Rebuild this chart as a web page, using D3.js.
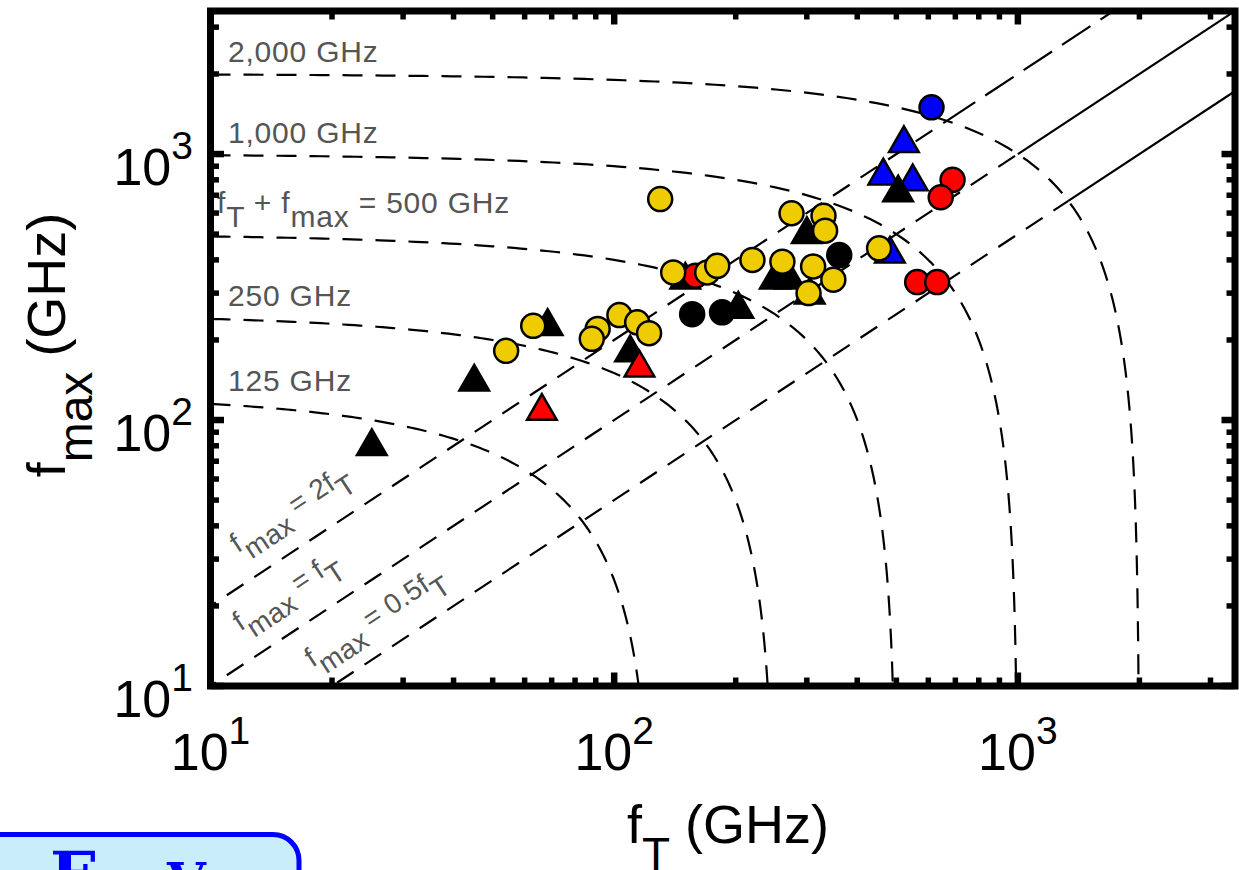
<!DOCTYPE html>
<html>
<head>
<meta charset="utf-8">
<script src="https://d3js.org/d3.v7.min.js"></script>
<style>
  body { margin: 0; background: #fff; }
  svg { display: block; font-family: "Liberation Sans", Arial, Helvetica, sans-serif; }
</style>
</head>
<body>
<div id="chart"></div>
<script>
// [fT, fmax] in GHz
var yellowCircles = [
  [130, 677], [54, 182], [63, 226], [91, 220], [88, 202], [103, 248], [114, 233],
  [122, 212], [140, 359], [170, 359], [180, 380], [220, 400], [261, 394], [275, 599],
  [330, 586], [333, 515], [311, 378], [349, 337], [303, 300], [453, 442]
];
var redCircles = [[159, 349], [689, 800], [644, 688], [563, 330], [631, 330]];
var blueCircles = [[611, 1498]];
var blackCircles = [[156, 250], [185, 254], [361, 417]];
var blackTriangles = [
  [25.1, 79.6], [45, 139], [68.4, 225], [109.5, 179], [203, 261], [300, 499],
  [250, 336], [272, 336], [505, 715], [150, 336], [305, 295]
];
var blueTriangles = [[522, 1097], [464, 828], [549, 787], [482, 421]];
var redTriangles = [[66.2, 108], [115.5, 157]];

// guide lines: fT + fmax = const, and fmax = k * fT
var sumLevels = [125, 250, 500, 1000, 2000];
var sumLabels = ["125 GHz", "250 GHz", null, "1,000 GHz", "2,000 GHz"];
var ratios = [2, 1, 0.5];
var ratioLabels = ["2f", "f", "0.5f"];

var W = 1239, H = 870;
var svg = d3.select("#chart").append("svg").attr("width", W).attr("height", H);

var x = d3.scaleLog().domain([10, 3450]).range([210.5, 1235]);
var y = d3.scaleLog().domain([10, 3450]).range([686, 11]);

var defs = svg.append("defs");
defs.append("clipPath").attr("id", "plot")
  .append("rect")
  .attr("x", x.range()[0]).attr("y", y.range()[1])
  .attr("width", x.range()[1] - x.range()[0])
  .attr("height", y.range()[0] - y.range()[1]);

var line = d3.line()
  .x(function (d) { return x(d[0]); })
  .y(function (d) { return y(d[1]); });

var guides = svg.append("g").attr("clip-path", "url(#plot)")
  .attr("fill", "none").attr("stroke", "#000").attr("stroke-width", 2.2);

// constant-sum curves
sumLevels.forEach(function (c) {
  var pts = [], n = 80, top = Math.log10(c / 2);
  for (var i = 0; i <= n; i++) {
    var v = Math.pow(10, 1 + (i / n) * (top - 1));
    pts.push([v, c - v]);
  }
  for (var j = n; j >= 0; j--) {
    var w = Math.pow(10, 1 + (j / n) * (top - 1));
    pts.push([c - w, w]);
  }
  guides.append("path").attr("d", line(pts)).attr("stroke-dasharray", "20,13");
});

// ratio lines, dashed inside the 2,000 GHz curve
ratios.forEach(function (k) {
  var cross = 2000 / (1 + k);
  guides.append("path")
    .attr("d", line([[5, 5 * k], [cross, cross * k]]))
    .attr("stroke-dasharray", "20,13");
  guides.append("path")
    .attr("d", line([[cross, cross * k], [5000, 5000 * k]]))
    .attr("stroke-dasharray", k === 2 ? "34,12" : null);
});

// labels
var gray = "#555";
var labels = svg.append("g").attr("fill", gray).style("font-size", "30px")
  .style("letter-spacing", "0.8px");

sumLevels.forEach(function (c, i) {
  if (!sumLabels[i]) return;
  labels.append("text").attr("x", 228).attr("y", y(c - 10) - 12.5).text(sumLabels[i]);
});
var t500 = labels.append("text").attr("x", 217).attr("y", y(490) - 23);
t500.append("tspan").text("f");
t500.append("tspan").attr("dy", 14).text("T");
t500.append("tspan").attr("dy", -14).text(" + f");
t500.append("tspan").attr("dy", 14).text("max");
t500.append("tspan").attr("dy", -14).text(" = 500 GHz");

var angle = Math.atan((y(10) - y(100)) / (x(100) - x(10))) * 180 / Math.PI;
var ratioAnchor = [12.8, 13, 19.4];
var ratioOffset = [29, 29, 26];
ratios.forEach(function (k, i) {
  var g = labels.append("g")
    .attr("transform", "translate(" + x(ratioAnchor[i]) + "," + y(ratioAnchor[i] * k) +
      ") rotate(" + (-angle) + ")");
  var t = g.append("text").attr("x", 0).attr("y", -ratioOffset[i])
    .style("font-size", "28px").style("letter-spacing", "0.3px");
  t.append("tspan").text("f");
  t.append("tspan").attr("dy", 13).text("max");
  t.append("tspan").attr("dy", -13).text(" = " + ratioLabels[i]);
  t.append("tspan").attr("dy", 13).text("T");
});

// markers
var marks = svg.append("g").attr("clip-path", "url(#plot)");
var tri = d3.symbol().type(d3.symbolTriangle).size(380);

function triangles(data, color) {
  marks.selectAll(null).data(data).enter().append("path")
    .attr("d", tri)
    .attr("transform", function (d) { return "translate(" + x(d[0]) + "," + y(d[1]) + ")"; })
    .attr("fill", color).attr("stroke", "#000").attr("stroke-width", 2.5)
    .attr("stroke-linejoin", "miter");
}
function circles(data, color) {
  marks.selectAll(null).data(data).enter().append("circle")
    .attr("cx", function (d) { return x(d[0]); })
    .attr("cy", function (d) { return y(d[1]); })
    .attr("r", 12)
    .attr("fill", color).attr("stroke", "#000").attr("stroke-width", 2.5);
}
triangles(blueTriangles, "#0000ff");
triangles(blackTriangles, "#000");
triangles(redTriangles, "#ff0000");
circles(blackCircles, "#000");
circles(redCircles, "#ff0000");
circles(yellowCircles, "#eecc00");
circles(blueCircles, "#0000ff");

// frame and ticks
var x0 = x.range()[0], x1 = x.range()[1], y0 = y.range()[0], y1 = y.range()[1];
var ticks = svg.append("g").attr("stroke", "#000");
x.ticks().forEach(function (v) {
  var major = Math.abs(Math.log10(v) - Math.round(Math.log10(v))) < 1e-9;
  var len = major ? 13.5 : 8.5, sw = major ? 6.5 : 5.5;
  ticks.append("line").attr("x1", x(v)).attr("x2", x(v)).attr("y1", y0).attr("y2", y0 - len).attr("stroke-width", sw);
  ticks.append("line").attr("x1", x(v)).attr("x2", x(v)).attr("y1", y1).attr("y2", y1 + len).attr("stroke-width", sw);
});
y.ticks().forEach(function (v) {
  var major = Math.abs(Math.log10(v) - Math.round(Math.log10(v))) < 1e-9;
  var len = major ? 13.5 : 8.5, sw = major ? 6.5 : 5.5;
  ticks.append("line").attr("y1", y(v)).attr("y2", y(v)).attr("x1", x0).attr("x2", x0 + len).attr("stroke-width", sw);
  ticks.append("line").attr("y1", y(v)).attr("y2", y(v)).attr("x1", x1).attr("x2", x1 - len).attr("stroke-width", sw);
});
svg.append("rect")
  .attr("x", x0).attr("y", y1).attr("width", x1 - x0).attr("height", y0 - y1)
  .attr("fill", "none").attr("stroke", "#000").attr("stroke-width", 7);

// tick labels
var decades = [10, 100, 1000];
decades.forEach(function (v) {
  var e = Math.round(Math.log10(v));
  var tx = svg.append("text").attr("x", x(v)).attr("y", 770)
    .attr("text-anchor", "middle").style("font-size", "52px");
  tx.append("tspan").text("10");
  tx.append("tspan").attr("dy", -26).style("font-size", "39px").text(e);
  var ty = svg.append("text").attr("x", 193).attr("y", y(v) + 31)
    .attr("text-anchor", "end").style("font-size", "52px");
  ty.append("tspan").text("10");
  ty.append("tspan").attr("dy", -26).style("font-size", "39px").text(e);
});

// axis titles
var xt = svg.append("text").attr("x", 728).attr("y", 843)
  .attr("text-anchor", "middle").style("font-size", "54px");
xt.append("tspan").text("f");
xt.append("tspan").attr("dy", 27).style("font-size", "46px").text("T");
xt.append("tspan").attr("dy", -27).text(" (GHz)");

var yt = svg.append("text").attr("transform", "translate(65,345) rotate(-90)")
  .attr("text-anchor", "middle").style("font-size", "54px");
yt.append("tspan").text("f");
yt.append("tspan").attr("dy", 27).style("font-size", "48px").text("max");
yt.append("tspan").attr("dy", -27).text(" (GHz)");

// cropped box at the lower left
svg.append("rect").attr("x", -30).attr("y", 834.5).attr("width", 329).attr("height", 100)
  .attr("rx", 26).attr("fill", "#c9edf9").attr("stroke", "#0000ff").attr("stroke-width", 5);
svg.append("text").attr("x", 50).attr("y", 897).attr("fill", "#0000ff")
  .style("font-family", "'DejaVu Serif', serif").style("font-weight", "bold")
  .style("font-size", "64px").text("E");
svg.append("text").attr("x", 167).attr("y", 899).attr("fill", "#0000ff")
  .style("font-family", "'DejaVu Serif', serif").style("font-weight", "bold")
  .style("font-size", "50px").text("V");
</script>
</body>
</html>
